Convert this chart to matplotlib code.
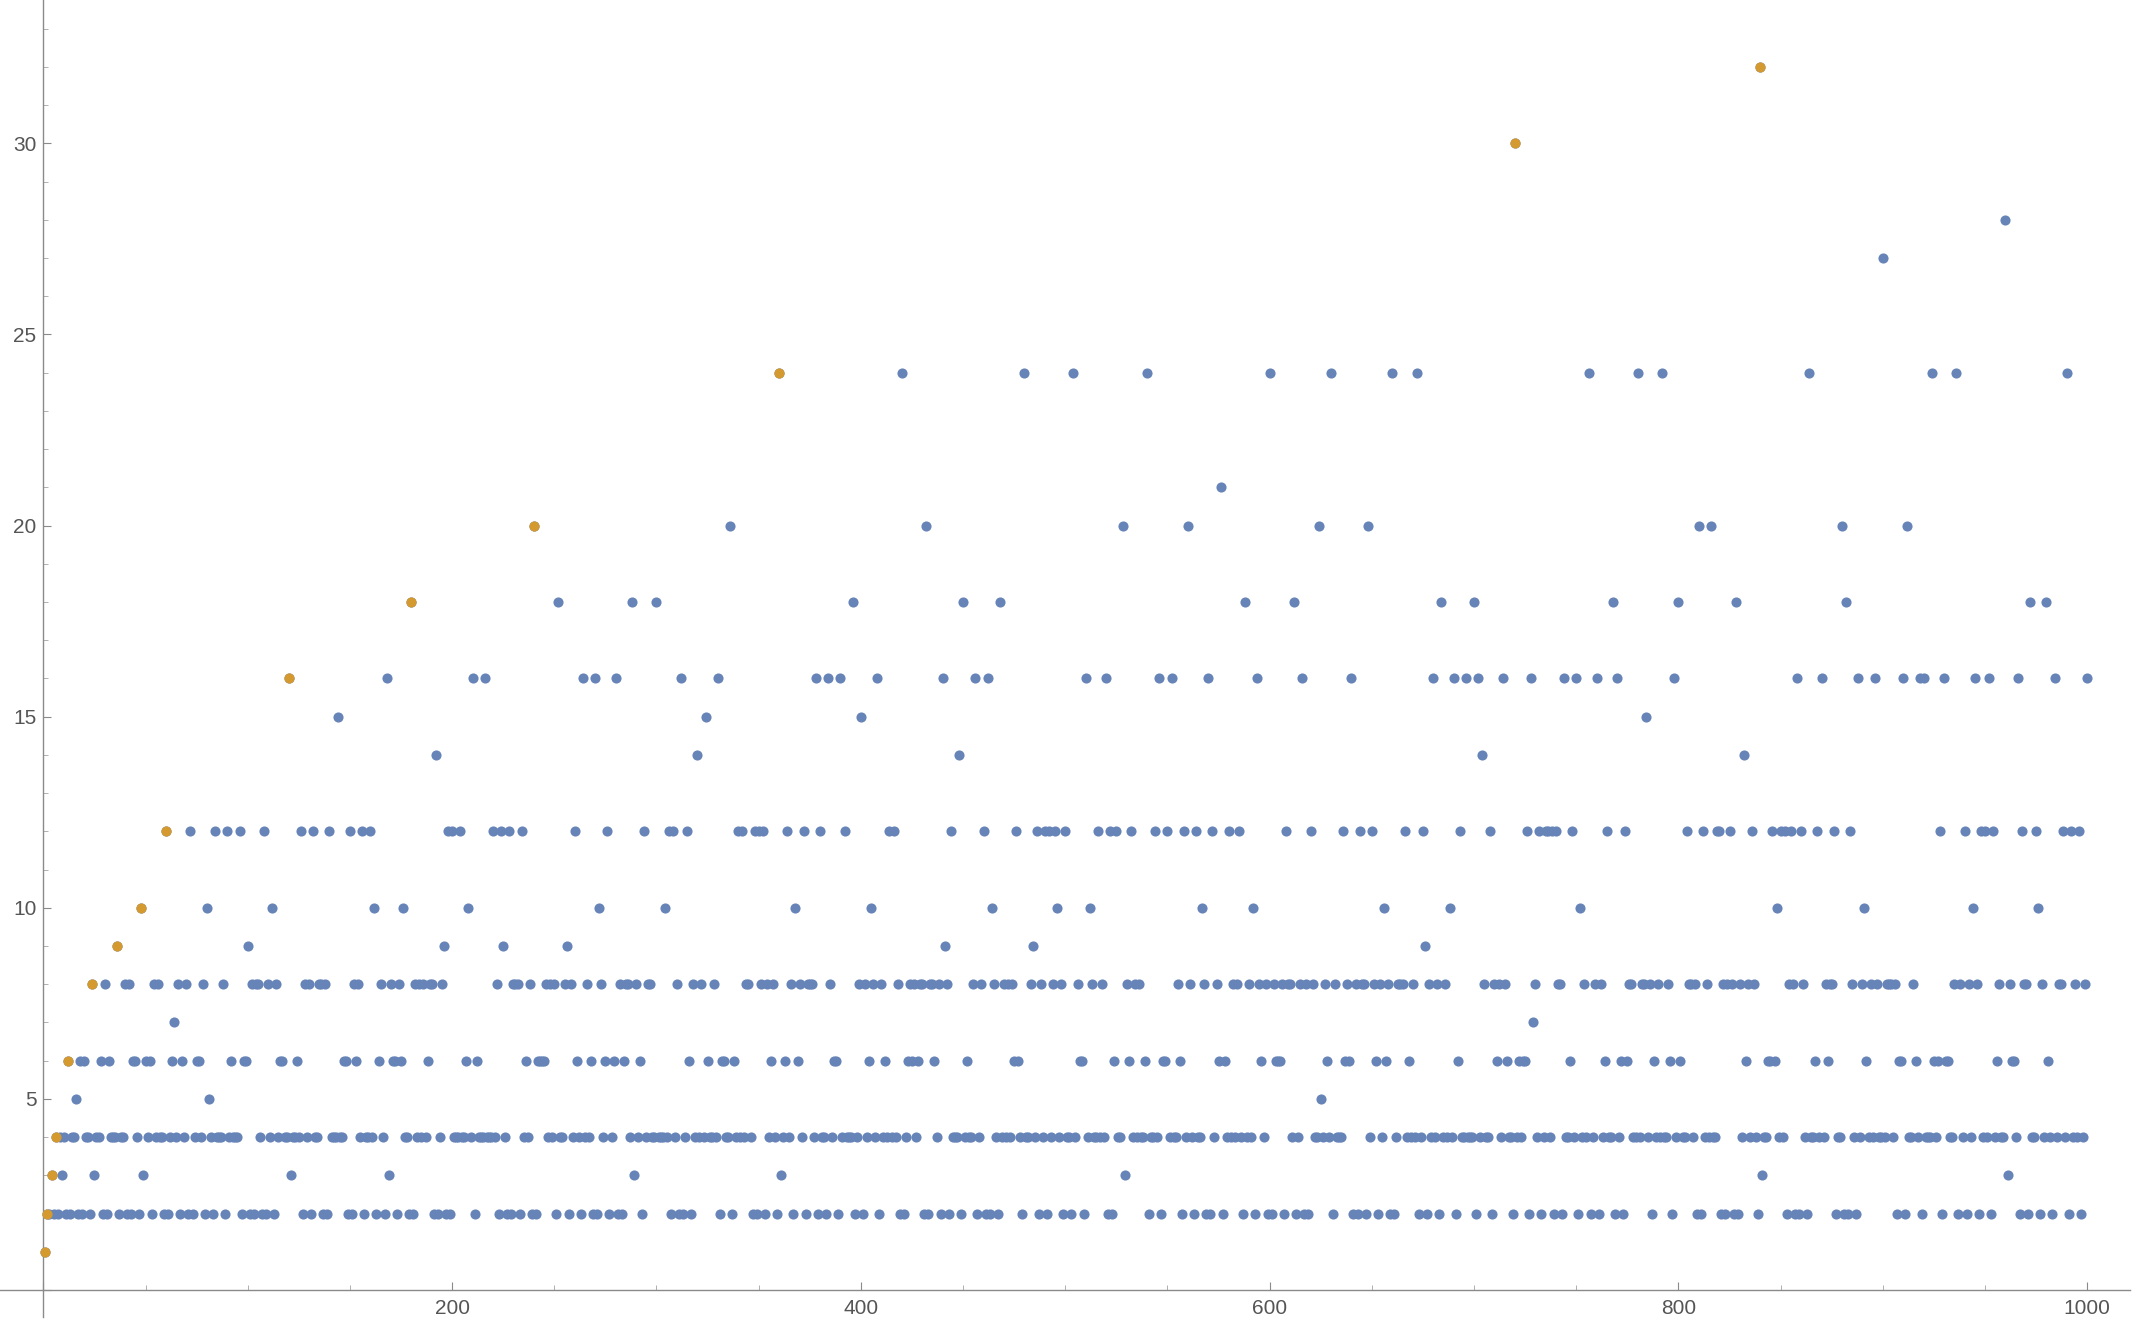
import matplotlib
matplotlib.use("Agg")
import matplotlib.pyplot as plt
from matplotlib.ticker import MultipleLocator, FixedLocator, FixedFormatter

# Values: y value for each n = 1..1000
values = [
    1,2,2,3,2,4,2,4,3,4, 2,6,2,4,4,5,2,6,2,6,
    4,4,2,8,3,4,4,6,2,8, 2,6,4,4,4,9,2,4,4,8,
    2,8,2,6,6,4,2,10,3,6, 4,6,2,8,4,8,4,4,2,12,
    2,4,6,7,4,8,2,6,4,8, 2,12,2,4,6,6,4,8,2,10,
    5,4,2,12,4,4,4,8,2,12, 4,6,4,4,4,12,2,6,6,9,
    2,8,2,8,8,4,2,12,2,8, 4,10,2,8,4,6,6,4,4,16,
    3,4,4,6,4,12,2,8,4,8, 2,12,4,4,8,8,2,8,2,12,
    4,4,4,15,4,4,6,6,2,12, 2,8,6,8,4,12,2,4,4,12,
    4,10,2,6,8,4,2,16,3,8, 6,6,2,8,6,10,4,4,2,18,
    2,8,4,8,4,8,4,6,8,8, 2,14,2,4,8,9,2,12,2,12,
    4,4,4,12,4,4,6,10,4,16, 2,6,4,4,4,16,4,4,4,12,
    4,8,2,12,9,4,2,12,2,8, 8,8,2,12,4,6,4,8,2,20,
    2,6,6,6,6,8,4,8,4,8, 2,18,4,4,8,9,2,8,4,12,
    6,4,2,16,4,8,4,6,2,16, 2,10,8,4,6,12,2,4,6,16,
    2,8,2,6,8,8,4,18,3,8, 4,6,2,12,4,8,8,4,4,18,
    4,4,4,10,4,12,2,12,4,8, 2,16,2,4,12,6,2,8,4,14,
    4,8,4,15,6,4,4,8,4,16, 2,6,6,4,4,20,2,6,4,12,
    4,12,4,8,8,4,2,12,2,12, 8,12,2,8,4,6,8,4,2,24,
    3,4,6,12,4,8,2,10,6,8, 4,12,2,8,8,8,4,16,2,12,
    4,4,2,16,8,4,6,6,2,16, 4,12,4,4,4,18,2,4,8,15,
    2,8,4,6,10,8,4,16,2,8, 4,6,4,12,4,12,4,8,2,24,
    2,4,6,8,6,8,4,6,8,8, 2,20,2,8,8,6,4,8,2,16,
    9,8,2,12,4,4,4,14,2,18, 4,6,4,4,8,16,2,4,8,12,
    2,16,2,10,8,4,2,18,4,8, 4,8,4,8,6,12,6,4,2,24,
    4,4,8,9,4,12,2,8,4,12, 2,12,4,8,12,10,4,8,2,12,
    4,4,2,24,4,8,6,6,2,16, 4,10,8,4,4,12,4,8,4,16,
    2,12,2,6,12,4,4,20,3,8, 6,12,4,8,4,8,4,4,6,24,
    2,4,4,12,4,16,2,6,6,12, 4,16,4,4,8,6,2,12,4,20,
    8,4,2,12,4,4,10,8,2,16, 2,12,4,8,6,21,2,6,4,12,
    4,8,4,8,12,4,2,18,4,8, 4,10,2,16,8,6,4,8,2,24,
    2,8,6,6,6,8,2,12,8,8, 4,18,2,4,8,16,2,8,2,12,
    8,4,4,20,5,4,8,6,4,24, 2,8,4,4,4,12,6,8,6,16,
    2,8,2,12,8,8,2,20,4,12, 8,6,2,8,4,10,6,8,2,24,
    2,4,8,8,8,12,4,6,4,8, 4,24,2,4,12,9,2,8,4,16,
    4,8,2,18,4,8,4,10,4,16, 2,6,12,4,4,16,4,4,4,18,
    2,16,4,14,8,4,4,12,2,8, 6,8,4,16,8,6,4,4,2,30,
    4,6,4,6,6,12,2,16,7,8, 4,12,2,4,12,12,4,12,2,12,
    8,8,2,16,4,4,6,12,4,16, 2,10,4,8,4,24,2,4,8,16,
    2,8,4,6,12,4,4,18,2,16, 4,6,2,12,6,8,8,4,4,24,
    4,8,8,15,4,8,2,6,4,8, 4,24,4,4,8,6,2,16,4,18,
    6,4,4,12,8,8,4,8,2,20, 2,12,4,8,4,20,4,4,12,12,
    2,8,2,8,12,8,2,18,2,8, 4,14,6,8,4,12,8,4,2,32,
    3,4,4,6,6,12,6,10,4,12, 4,12,2,8,12,8,2,16,2,12,
    8,4,2,24,4,4,6,12,4,16, 4,8,6,8,8,12,2,4,4,20,
    2,18,2,12,8,4,2,16,4,8, 10,6,4,8,4,16,8,4,4,27,
    4,8,8,8,4,8,2,6,6,16, 2,20,4,4,8,6,4,16,2,16,
    4,4,4,24,6,4,6,12,2,16, 6,6,4,4,8,24,2,8,4,12,
    2,8,4,10,16,8,2,12,4,12, 4,16,2,12,4,6,8,4,4,28,
    3,8,6,6,4,16,2,12,8,8, 2,18,4,4,12,10,2,8,4,18,
    6,4,2,16,4,8,8,12,4,24, 2,12,4,8,4,12,2,4,8,16,
]
n_values = list(range(1, len(values) + 1))

# Highlighted (orange) positions
highlight_n = [1, 2, 4, 6, 12, 24, 36, 48, 60, 120, 180, 240, 360, 720, 840]
highlight_values = [values[n - 1] for n in highlight_n]

x_tick_labels = ["", "200", "400", "600", "800", "1000"]
y_tick_labels = ["", "5", "10", "15", "20", "25", "30"]

BLUE = "#6784B8"
ORANGE = "#D49A30"
AXIS = "#8a8a8a"
LABEL = "#555555"

plt.rcParams["font.family"] = ["Liberation Sans", "DejaVu Sans"]

fig = plt.figure(figsize=(21.33, 13.25), dpi=100)
ax = fig.add_axes([0, 0, 1, 1])

ax.plot(n_values, values, linestyle="none", marker="o", markersize=7.3,
        markeredgewidth=0, color=BLUE, zorder=3, clip_on=False)
ax.plot(highlight_n, highlight_values, linestyle="none", marker="o",
        markersize=7.3, markeredgewidth=0, color=ORANGE, zorder=4, clip_on=False)

ax.set_xlim(-21.2, 1022.4)
ax.set_ylim(-0.916, 33.75)

for s in ("top", "right"):
    ax.spines[s].set_visible(False)
ax.spines["left"].set_position(("data", 0))
ax.spines["bottom"].set_position(("data", 0))
ax.spines["left"].set_bounds(-0.71, 33.75)
ax.spines["bottom"].set_bounds(-21.2, 1021)
for s in ("left", "bottom"):
    ax.spines[s].set_color(AXIS)
    ax.spines[s].set_linewidth(1.0)

ax.xaxis.set_major_locator(FixedLocator([0, 200, 400, 600, 800, 1000]))
ax.xaxis.set_major_formatter(FixedFormatter(x_tick_labels))
ax.xaxis.set_minor_locator(MultipleLocator(50))
ax.yaxis.set_major_locator(FixedLocator([0, 5, 10, 15, 20, 25, 30]))
ax.yaxis.set_major_formatter(FixedFormatter(y_tick_labels))
ax.yaxis.set_minor_locator(MultipleLocator(1))

ax.tick_params(axis="both", which="both", direction="in", color=AXIS,
               labelcolor=LABEL, labelsize=15)
ax.tick_params(axis="y", which="major", length=6, width=0.8, pad=5)
ax.tick_params(axis="y", which="minor", length=3.8, width=0.7, color="#b0b0b0")
ax.tick_params(axis="x", which="major", length=5.8, width=0.8, pad=6.5)
ax.tick_params(axis="x", which="minor", length=3.6, width=0.7, color="#b0b0b0")

fig.savefig("out.png", dpi=100)
